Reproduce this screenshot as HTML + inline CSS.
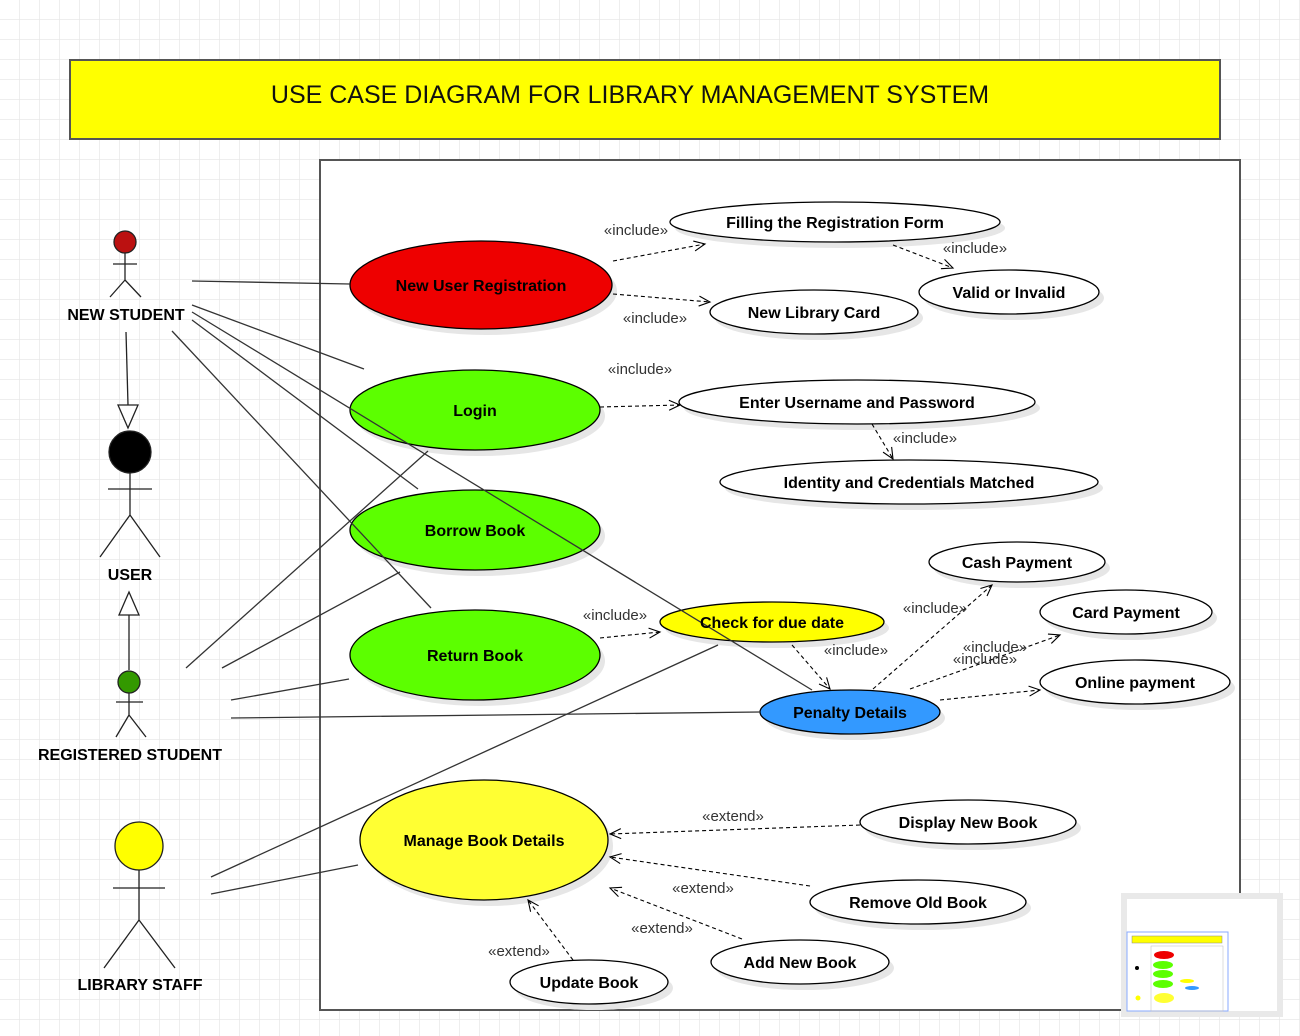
<!DOCTYPE html>
<html><head><meta charset="utf-8"><style>
html,body{margin:0;padding:0;background:#fff}
svg{display:block}
text{font-family:"Liberation Sans",Arial,sans-serif}
.b{font-weight:bold;font-size:16px;fill:#000;text-anchor:middle}
.l{font-size:15px;fill:#333;text-anchor:middle}
.s{stroke:#333;stroke-width:1.3;fill:none}
.d{stroke:#000;stroke-width:1.1;fill:none;stroke-dasharray:4,3;marker-end:url(#oa)}
.sh{fill:#e6e6e6}
</style></head><body>
<svg width="1300" height="1036" viewBox="0 0 1300 1036" xmlns="http://www.w3.org/2000/svg">
<defs>
<pattern id="g" width="20" height="20" patternUnits="userSpaceOnUse" x="0" y="0">
<path d="M20 0V20M0 20H20" stroke="#e8e8e8" stroke-width="1.5" fill="none"/>
</pattern>
<marker id="oa" markerWidth="14" markerHeight="12" refX="12" refY="6" orient="auto" markerUnits="userSpaceOnUse">
<polyline points="1,1 12,6 1,11" fill="none" stroke="#000" stroke-width="1.1"/>
</marker>
</defs>
<rect width="1300" height="1036" fill="#fff"/>
<rect width="1300" height="1036" fill="url(#g)"/>

<rect x="70" y="60" width="1150" height="79" fill="#ffff00" stroke="#555" stroke-width="2"/>
<text x="630" y="103" style="font-size:25px;text-anchor:middle;fill:#111">USE CASE DIAGRAM FOR LIBRARY MANAGEMENT SYSTEM</text>

<rect x="320" y="160" width="920" height="850" fill="#fff" stroke="#555" stroke-width="2"/>

<!-- shadows -->
<g class="sh">
<ellipse cx="486" cy="291" rx="131" ry="44"/>
<ellipse cx="480" cy="416" rx="125" ry="40"/>
<ellipse cx="480" cy="536" rx="125" ry="40"/>
<ellipse cx="480" cy="661" rx="125" ry="45"/>
<ellipse cx="777" cy="628" rx="112" ry="20"/>
<ellipse cx="855" cy="718" rx="90" ry="22"/>
<ellipse cx="489" cy="846" rx="124" ry="60"/>
<ellipse cx="840" cy="228" rx="165" ry="20"/>
<ellipse cx="1014" cy="298" rx="90" ry="22"/>
<ellipse cx="819" cy="318" rx="104" ry="22"/>
<ellipse cx="862" cy="408" rx="178" ry="22"/>
<ellipse cx="914" cy="488" rx="189" ry="22"/>
<ellipse cx="1022" cy="568" rx="88" ry="20"/>
<ellipse cx="1131" cy="618" rx="86" ry="22"/>
<ellipse cx="1140" cy="688" rx="95" ry="22"/>
<ellipse cx="973" cy="828" rx="108" ry="22"/>
<ellipse cx="923" cy="908" rx="108" ry="22"/>
<ellipse cx="805" cy="968" rx="89" ry="22"/>
<ellipse cx="594" cy="988" rx="79" ry="22"/>
</g>

<!-- ellipses -->
<g stroke="#000" stroke-width="1.3">
<ellipse cx="481" cy="285" rx="131" ry="44" fill="#ee0000"/>
<ellipse cx="475" cy="410" rx="125" ry="40" fill="#5cff00"/>
<ellipse cx="475" cy="530" rx="125" ry="40" fill="#5cff00"/>
<ellipse cx="475" cy="655" rx="125" ry="45" fill="#5cff00"/>
<ellipse cx="772" cy="622" rx="112" ry="20" fill="#ffff00"/>
<ellipse cx="850" cy="712" rx="90" ry="22" fill="#3399ff"/>
<ellipse cx="484" cy="840" rx="124" ry="60" fill="#ffff33"/>
<ellipse cx="835" cy="222" rx="165" ry="20" fill="#fff"/>
<ellipse cx="1009" cy="292" rx="90" ry="22" fill="#fff"/>
<ellipse cx="814" cy="312" rx="104" ry="22" fill="#fff"/>
<ellipse cx="857" cy="402" rx="178" ry="22" fill="#fff"/>
<ellipse cx="909" cy="482" rx="189" ry="22" fill="#fff"/>
<ellipse cx="1017" cy="562" rx="88" ry="20" fill="#fff"/>
<ellipse cx="1126" cy="612" rx="86" ry="22" fill="#fff"/>
<ellipse cx="1135" cy="682" rx="95" ry="22" fill="#fff"/>
<ellipse cx="968" cy="822" rx="108" ry="22" fill="#fff"/>
<ellipse cx="918" cy="902" rx="108" ry="22" fill="#fff"/>
<ellipse cx="800" cy="962" rx="89" ry="22" fill="#fff"/>
<ellipse cx="589" cy="982" rx="79" ry="22" fill="#fff"/>
</g>

<!-- solid association lines (on top) -->
<g class="s">
<line x1="192" y1="281" x2="350" y2="284"/>
<line x1="192" y1="305" x2="364" y2="369"/>
<line x1="192" y1="320" x2="418" y2="489"/>
<line x1="192" y1="312" x2="812" y2="690"/>
<line x1="172" y1="331" x2="431" y2="608"/>
<line x1="186" y1="668" x2="428" y2="451"/>
<line x1="222" y1="668" x2="400" y2="572"/>
<line x1="231" y1="700" x2="349" y2="679"/>
<line x1="231" y1="718" x2="760" y2="712"/>
<line x1="211" y1="877" x2="718" y2="645"/>
<line x1="211" y1="894" x2="358" y2="865"/>
</g>

<!-- dashed arrows -->
<g class="d">
<line x1="613" y1="261" x2="705" y2="244"/>
<line x1="893" y1="245" x2="953" y2="268"/>
<line x1="613" y1="294" x2="710" y2="302"/>
<line x1="600" y1="407" x2="680" y2="405"/>
<line x1="872" y1="424" x2="893" y2="459"/>
<line x1="600" y1="638" x2="660" y2="632"/>
<line x1="792" y1="645" x2="830" y2="689"/>
<line x1="873" y1="689" x2="992" y2="585"/>
<line x1="910" y1="689" x2="1060" y2="635"/>
<line x1="940" y1="700" x2="1040" y2="690"/>
<line x1="860" y1="825" x2="610" y2="834"/>
<line x1="810" y1="886" x2="610" y2="857"/>
<line x1="742" y1="939" x2="610" y2="888"/>
<line x1="573" y1="960" x2="528" y2="900"/>
</g>

<!-- labels -->
<g class="l">
<text x="636" y="235">«include»</text>
<text x="975" y="253">«include»</text>
<text x="655" y="323">«include»</text>
<text x="640" y="374">«include»</text>
<text x="925" y="443">«include»</text>
<text x="615" y="620">«include»</text>
<text x="856" y="655">«include»</text>
<text x="935" y="613">«include»</text>
<text x="995" y="652">«include»</text>
<text x="985" y="664">«include»</text>
<text x="733" y="821">«extend»</text>
<text x="703" y="893">«extend»</text>
<text x="662" y="933">«extend»</text>
<text x="519" y="956">«extend»</text>
</g>

<g class="b">
<text x="481" y="291">New User Registration</text>
<text x="475" y="416">Login</text>
<text x="475" y="536">Borrow Book</text>
<text x="475" y="661">Return Book</text>
<text x="772" y="628">Check for due date</text>
<text x="850" y="718">Penalty Details</text>
<text x="484" y="846">Manage Book Details</text>
<text x="835" y="228">Filling the Registration Form</text>
<text x="1009" y="298">Valid or Invalid</text>
<text x="814" y="318">New Library Card</text>
<text x="857" y="408">Enter Username and Password</text>
<text x="909" y="488">Identity and Credentials Matched</text>
<text x="1017" y="568">Cash Payment</text>
<text x="1126" y="618">Card Payment</text>
<text x="1135" y="688">Online payment</text>
<text x="968" y="828">Display New Book</text>
<text x="918" y="908">Remove Old Book</text>
<text x="800" y="968">Add New Book</text>
<text x="589" y="988">Update Book</text>
</g>

<!-- actors -->
<g stroke="#222" stroke-width="1.3" fill="none">
<circle cx="125" cy="242" r="11" fill="#bb1111"/>
<path d="M125 253V280M113 264H137M125 280L110 297M125 280L141 297"/>
<circle cx="130" cy="452" r="21" fill="#000"/>
<path d="M130 473V515M108 489H152M130 515L100 557M130 515L160 557"/>
<circle cx="129" cy="682" r="11" fill="#339900"/>
<path d="M129 693V715M116 702H143M129 715L116 737M129 715L146 737"/>
<circle cx="139" cy="846" r="24" fill="#ffff00"/>
<path d="M139 870V920M113 888H165M139 920L104 968M139 920L175 968"/>
<line x1="126" y1="332" x2="128" y2="405"/>
<polygon points="118,405 138,405 128,428" fill="#fff"/>
<line x1="129" y1="670" x2="129" y2="615"/>
<polygon points="119,615 139,615 129,592" fill="#fff"/>
</g>
<g class="b">
<text x="126" y="320">NEW STUDENT</text>
<text x="130" y="580">USER</text>
<text x="130" y="760">REGISTERED STUDENT</text>
<text x="140" y="990">LIBRARY STAFF</text>
</g>

<!-- minimap -->
<rect x="1121" y="893" width="162" height="124" fill="#e9e9e9"/>
<rect x="1127" y="899" width="150" height="112" fill="#fff"/>
<rect x="1127" y="932" width="101" height="79" fill="none" stroke="#88aaff" stroke-width="1"/>
<rect x="1132" y="936" width="90" height="7" fill="#ffff00" stroke="#888" stroke-width="0.5"/>
<rect x="1151" y="946" width="72" height="65" fill="none" stroke="#bbb" stroke-width="0.5"/>
<ellipse cx="1164" cy="955" rx="10" ry="4" fill="#ee0000"/>
<ellipse cx="1163" cy="965" rx="10" ry="4" fill="#5cff00"/>
<ellipse cx="1163" cy="974" rx="10" ry="4" fill="#5cff00"/>
<ellipse cx="1163" cy="984" rx="10" ry="4" fill="#5cff00"/>
<ellipse cx="1187" cy="981" rx="7" ry="2" fill="#ffff00"/>
<ellipse cx="1192" cy="988" rx="7" ry="2" fill="#3399ff"/>
<ellipse cx="1164" cy="998" rx="10" ry="5" fill="#ffff33"/>
<circle cx="1137" cy="968" r="2" fill="#000"/>
<circle cx="1138" cy="998" r="2.5" fill="#ffff00"/>
</svg>
</body></html>
